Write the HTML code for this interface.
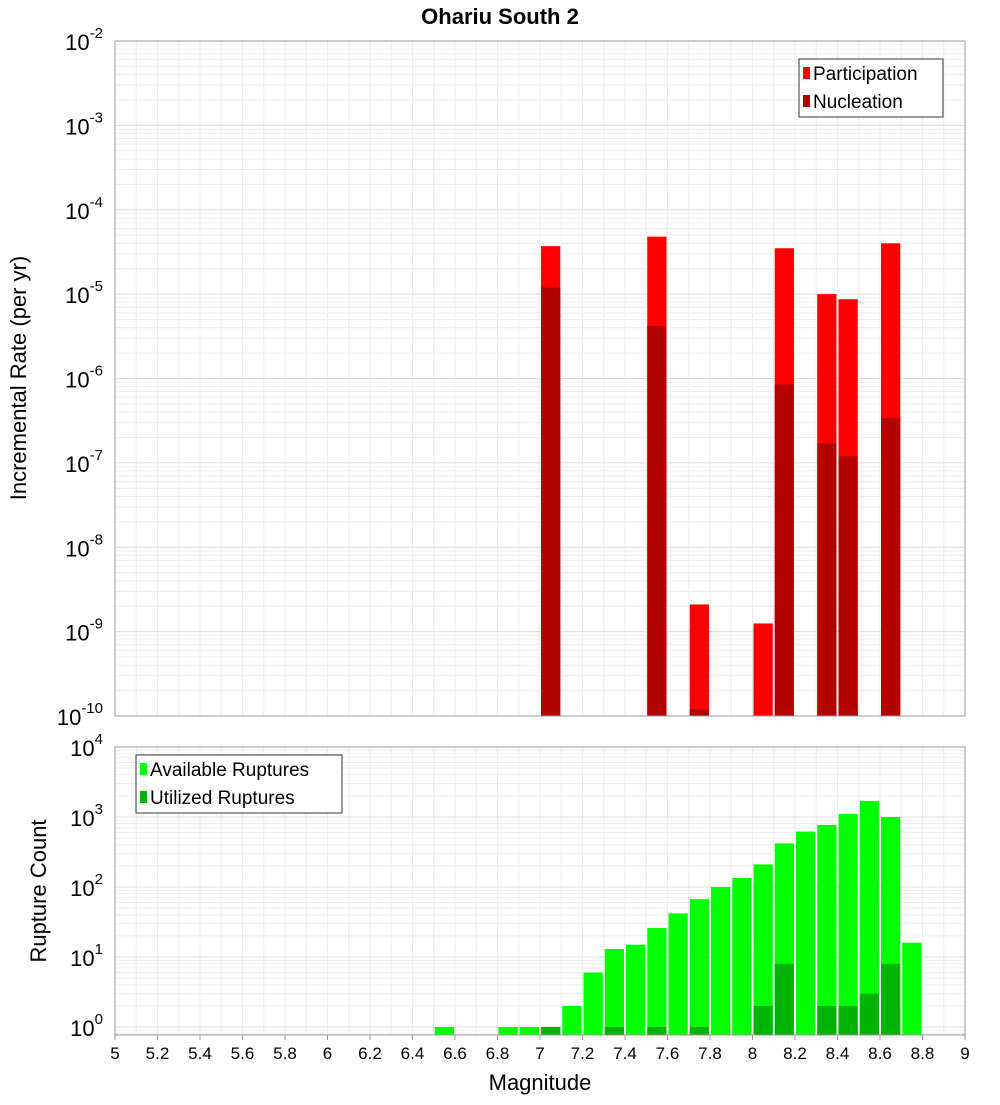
<!DOCTYPE html>
<html><head><meta charset="utf-8"><style>
body{margin:0;background:#fff;font-family:"Liberation Sans",sans-serif}
svg text{font-family:"Liberation Sans","DejaVu Sans",sans-serif}
</style></head><body>
<svg id="c" width="1000" height="1100" xmlns="http://www.w3.org/2000/svg">
<rect width="1000" height="1100" fill="#fff"/>
<text x="500" y="24" text-anchor="middle" font-size="22" font-weight="bold">Ohariu South 2</text>
<g id="topPlot"></g>
<g id="botPlot"></g>
<text transform="translate(26,378) rotate(-90)" text-anchor="middle" font-size="22">Incremental Rate (per yr)</text>
<text transform="translate(46,891) rotate(-90)" text-anchor="middle" font-size="22">Rupture Count</text>
<text x="540" y="1090" text-anchor="middle" font-size="22">Magnitude</text>
</svg>
<script>
const rateMags=[7.05,7.55,7.75,8.05,8.15,8.35,8.45,8.65];
const participation=[3.7e-5,4.8e-5,2.1e-9,1.25e-9,3.5e-5,1.0e-5,8.7e-6,4.0e-5];
const nucleation=[1.2e-5,4.2e-6,1.2e-10,0,8.5e-7,1.7e-7,1.2e-7,3.4e-7];
const countMags=[6.55,6.85,6.95,7.05,7.15,7.25,7.35,7.45,7.55,7.65,7.75,7.85,7.95,8.05,8.15,8.25,8.35,8.45,8.55,8.65,8.75];
const available=[1,1,1,1,2,6,13,15,26,42,67,100,135,210,420,620,770,1100,1700,1000,16];
const utilized=[0,0,0,1,0,0,1,0,1,0,1,0,0,2,8,0,2,2,3,8,0];
const xTicks=[5,5.2,5.4,5.6,5.8,6,6.2,6.4,6.6,6.8,7,7.2,7.4,7.6,7.8,8,8.2,8.4,8.6,8.8,9];
const topExps=[-2,-3,-4,-5,-6,-7,-8,-9,-10];
const botExps=[0,1,2,3,4];
const NS='http://www.w3.org/2000/svg';
const X0=115,X1=965;
const xs=m=>X0+(m-5)*(X1-X0)/4;
const yTop=v=>41+(-2-Math.log10(v))*84.375;
const yBot=v=>1027-Math.log10(v)*70;
function mk(p,t,a){const e=document.createElementNS(NS,t);for(const k in a)e.setAttribute(k,a[k]);p.appendChild(e);return e;}
const topG=document.getElementById('topPlot'),botG=document.getElementById('botPlot');
function frame(g,y0,y1,yf,exps){
  mk(g,'rect',{x:X0,y:y0,width:X1-X0,height:y1-y0,fill:'#fff',stroke:'none'});
  for(let i=0;i<=40;i++){const m=5+i*0.1;mk(g,'line',{x1:xs(m),x2:xs(m),y1:y0,y2:y1,stroke:'#ececec','stroke-width':1});}
  const lo=Math.min(...exps),hi=Math.max(...exps);
  for(let e=lo-1;e<=hi;e++)for(let k=1;k<10;k++){const v=k*Math.pow(10,e);const yy=yf(v);if(yy<y0||yy>y1)continue;
    mk(g,'line',{x1:X0,x2:X1,y1:yy,y2:yy,stroke:k==1?'#dcdcdc':'#ececec','stroke-width':1});}
}
frame(topG,41,716,yTop,topExps);
frame(botG,747,1035,yBot,botExps);
const BW=xs(5.1)-xs(5)-2;
rateMags.forEach((m,i)=>{
  let r=mk(topG,'rect',{x:xs(m-0.05)+1,y:yTop(participation[i]),width:BW,height:716-yTop(participation[i]),fill:'#ff0000'});
  
  
  if(nucleation[i]>0){let n=mk(topG,'rect',{x:xs(m-0.05)+1,y:yTop(nucleation[i]),width:BW,height:716-yTop(nucleation[i]),fill:'#b30000'});
  
  }
});
countMags.forEach((m,i)=>{
  let r=mk(botG,'rect',{x:xs(m-0.05)+1,y:yBot(available[i]),width:BW,height:1035-yBot(available[i]),fill:'#00ff00'});
  
  
  if(utilized[i]>0){let n=mk(botG,'rect',{x:xs(m-0.05)+1,y:yBot(utilized[i]),width:BW,height:1035-yBot(utilized[i]),fill:'#00b300'});
  
  }
});
mk(topG,'rect',{x:X0,y:41,width:X1-X0,height:675,fill:'none',stroke:'#999'});
mk(botG,'rect',{x:X0,y:747,width:X1-X0,height:288,fill:'none',stroke:'#999'});
function ylab(g,yy,e){const t=mk(g,'text',{x:103,y:yy+9,'text-anchor':'end','font-size':22});
  
  
  const a=document.createElementNS(NS,'tspan');a.textContent='10';t.appendChild(a);
  const b=document.createElementNS(NS,'tspan');b.setAttribute('dy','-12');b.setAttribute('font-size','15');b.textContent=String(e);t.appendChild(b);}
topExps.forEach(e=>ylab(topG,yTop(Math.pow(10,e)),e));
botExps.forEach(e=>ylab(botG,yBot(Math.pow(10,e)),e));
xTicks.forEach(m=>{const t=mk(botG,'text',{x:xs(m),y:1059,'text-anchor':'middle','font-size':17});
  
  
  t.textContent=String(m);
  mk(botG,'line',{x1:xs(m),x2:xs(m),y1:1035,y2:1040,stroke:'#999'});});
function legend(g,lx,ly,w,items){const b=mk(g,'rect',{x:lx,y:ly,width:w,height:58,fill:'#fff',stroke:'#333'});
  
  
  items.forEach((it,i)=>{mk(g,'rect',{x:lx+4,y:ly+8+i*28,width:7,height:12,fill:it[1]});
  const t=mk(g,'text',{x:lx+14,y:ly+21+i*28,'font-size':19});
  
  
  t.textContent=it[0];});}
legend(topG,799,59,144,[['Participation','#ff0000'],['Nucleation','#b30000']]);
legend(botG,136,755,206,[['Available Ruptures','#00ff00'],['Utilized Ruptures','#00b300']]);
</script>
</body></html>
